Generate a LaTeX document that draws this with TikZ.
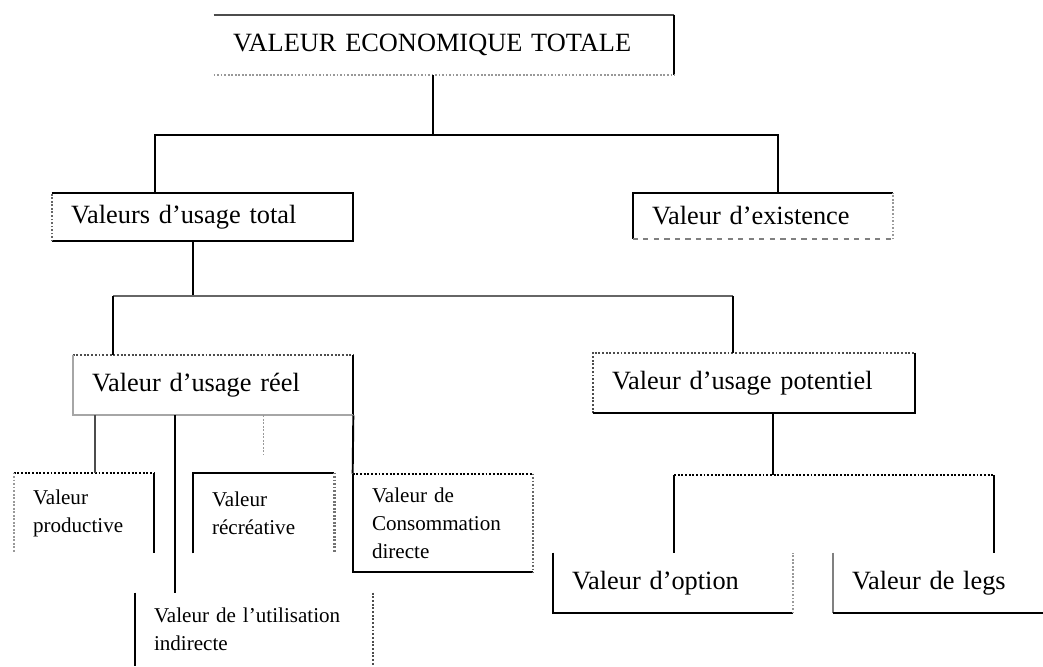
\documentclass[tikz,border=0pt]{standalone}
\usepackage{fontspec}
\setmainfont{Liberation Serif}
\newcommand\bigtxt{\fontsize{15}{18}\selectfont}
\newcommand\smalltxt{\fontsize{12}{16}\selectfont}
\begin{document}
\begin{tikzpicture}
  [x=0.02cm, y=-0.02cm,
   box/.style={inner xsep=0.38cm, inner ysep=0pt, align=left, font=\bigtxt},
   smallbox/.style={box, font=\smalltxt},
   side/.style={line width=1pt},
   dotside/.style={line width=1.1pt, densely dotted},
   greyside/.style={line width=1pt, black!40, densely dotted},
   link/.style={line width=1.1pt},
   bus/.style={line width=1.4pt, black!60}]
  \useasboundingbox (0,0) rectangle (1043,666);

  \node[box, text width=8.44cm, minimum height=1.2cm] (tot) at (444,45) {VALEUR ECONOMIQUE TOTALE};
  \node[box, text width=5.26cm, minimum height=0.96cm] (usage) at (202.5,217) {Valeurs d'usage total};
  \node[box, text width=4.44cm, minimum height=0.92cm] (exist) at (763,216) {Valeur d'existence};
  \node[box, text width=4.84cm, minimum height=1.2cm] (reel) at (213,385) {Valeur d'usage réel};
  \node[box, text width=5.68cm, minimum height=1.2cm] (pot) at (754,383) {Valeur d'usage potentiel};
  \node[smallbox, text width=2.04cm, minimum height=1.6cm] (prod) at (84,513) {Valeur\\productive};
  \node[smallbox, text width=2.06cm, minimum height=1.6cm] (recr) at (263.5,513) {Valeur\\récréative};
  \node[smallbox, text width=2.84cm, minimum height=1.96cm] (conso) at (443,523) {Valeur de\\Consommation\\directe};
  \node[smallbox, text width=4.0cm, minimum height=1.46cm] (indir) at (254,629.5) {Valeur de l'utilisation\\indirecte};
  \node[box, text width=4.04cm, minimum height=1.2cm] (opt) at (673,583) {Valeur d'option};
  \node[box, text width=3.44cm, minimum height=1.2cm] (legs) at (938,583) {Valeur de legs};

  % box sides, as far as they show
  \draw[side, black!70] (tot.north west) -- (tot.north east);
  \draw[side] (tot.north east) -- (tot.south east);
  \draw[greyside] (tot.south west) -- (tot.south east);
  \draw[side] (usage.north west) -- (usage.north east) -- (usage.south east) -- (usage.south west);
  \draw[greyside, black!60] (usage.south west) -- (usage.north west);
  \draw[side] (exist.north east) -- (exist.north west) -- (exist.south west);
  \draw[side, black!50, dashed] (exist.south west) -- (exist.south east);
  \draw[greyside] (exist.south east) -- (exist.north east);
  \draw[dotside, black!70] (reel.north west) -- (reel.north east);
  \draw[side] (reel.north east) -- (reel.south east);
  \draw[side, black!35] (reel.south east) -- (reel.south west) -- (reel.north west);
  \draw[dotside, black!70] (pot.south west) -- (pot.north west) -- (pot.north east);
  \draw[side] (pot.north east) -- (pot.south east) -- (pot.south west);
  \draw[dotside] (prod.north west) -- (prod.north east);
  \draw[side] (prod.north east) -- (prod.south east);
  \draw[greyside] (prod.north west) -- (prod.south west);
  \draw[side] (recr.south west) -- (recr.north west) -- (recr.north east);
  \draw[greyside, line width=1.4pt, black!55] (recr.north east) -- (recr.south east);
  \draw[dotside] (conso.north west) -- (conso.north east);
  \draw[side] (conso.north west) -- (conso.south west) -- (conso.south east);
  \draw[greyside, black!60] (conso.north east) -- (conso.south east);
  \draw[side] (indir.north west) -- (indir.south west);
  \draw[dotside, black!70] (indir.north east) -- (indir.south east);
  \draw[side] (opt.north west) -- (opt.south west) -- (opt.south east);
  \draw[greyside] (opt.south east) -- (opt.north east);
  \draw[side, black!50] (legs.north west) -- (legs.south west);
  \draw[side] (legs.south west) -- (legs.south east);

  % connectors
  \coordinate (j1) at (433,135);
  \coordinate (j1l) at (155,135);
  \coordinate (j1r) at (778,135);
  \draw[link] (tot.south -| j1) -- (j1);
  \draw[link] (j1) -| (usage.north -| j1l);
  \draw[link] (j1) -| (exist.north -| j1r);

  \coordinate (j2) at (193,296);
  \coordinate (j2l) at (113,296);
  \coordinate (j2r) at (733,296);
  \draw[link] (usage.south -| j2) -- (j2);
  \draw[bus] (j2l) -- (j2r);
  \draw[link] (j2l) -- (reel.north -| j2l);
  \draw[link] (j2r) -- (pot.north -| j2r);

  \coordinate (r1) at (95,0);
  \coordinate (r2) at (175,0);
  \draw[link, black!70] (reel.south -| r1) -- (prod.north -| r1);
  \draw[link] (reel.south -| r2) -- (indir.north -| r2);
  \draw[greyside, shorten >=0.36cm] (reel.south -| recr.north) -- (recr.north);
  \draw[link] (reel.south east) -- (conso.north west);

  \coordinate (j3) at (773,475);
  \coordinate (j3l) at (674,475);
  \coordinate (j3r) at (994,475);
  \draw[link] (pot.south -| j3) -- (j3);
  \draw[dotside] (j3l) -- (j3r);
  \draw[link] (j3l) -- (opt.north -| j3l);
  \draw[link] (j3r) -- (legs.north -| j3r);
\end{tikzpicture}
\end{document}
